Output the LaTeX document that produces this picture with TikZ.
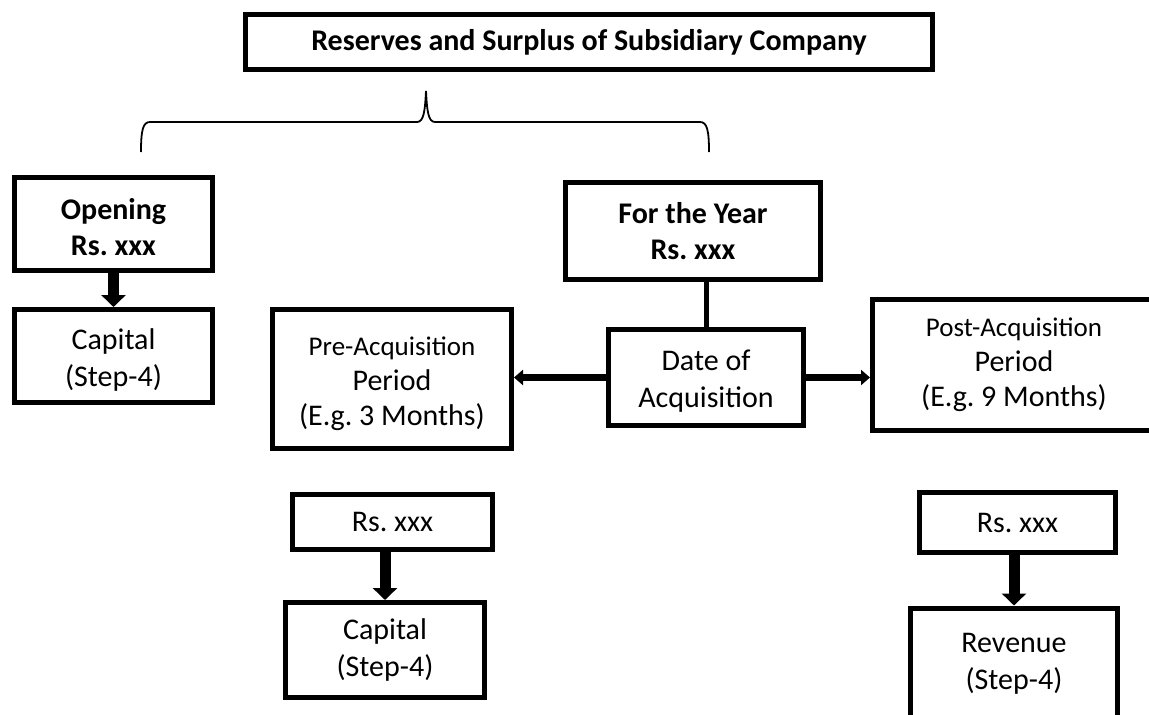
\documentclass[tikz,border=0pt]{standalone}
\usepackage{fontspec}
\setmainfont{Carlito}
\usetikzlibrary{arrows.meta}
\frenchspacing
% taller first line, to set a box's text a little lower
\newcommand\boxstrut{\rule{0pt}{28pt}}
\begin{document}
\begin{tikzpicture}[x=1pt,y=-1pt,
  box/.style={draw=black, line width=5pt, fill=white, inner sep=0pt, align=center,
              font=\fontsize{30}{37}\selectfont},
  boldbox/.style={box, font=\fontsize{30}{36}\selectfont\bfseries},
  link/.style={line width=5pt, preaction={draw=white, line width=9pt}},
  varrow/.style={line width=11pt,
                 preaction={draw=white, line width=20pt, -{Triangle[width=30pt,length=15pt]}},
                 -{Triangle[width=24pt,length=12pt]}},
  harrow/.style={line width=7pt,
                 preaction={draw=white, line width=17pt, -{Triangle[width=20pt,length=12pt]}},
                 -{Triangle[width=15pt,length=9pt]}}]
\useasboundingbox (0,0) rectangle (1149,715);
\begin{scope}
\clip (0,0) rectangle (1149,715);
\fill[white] (0,0) rectangle (1149,715);

% title and brace
\node[box, font=\fontsize{30}{36}\selectfont\bfseries, minimum width=687pt, minimum height=55pt]
  (title) at (589,42) {Reserves and Surplus of Subsidiary Company};
\coordinate (bl) at (141,152);
\coordinate (br) at (709,152);
\coordinate (bp) at (426,91);
\draw[line width=1.8pt]
  (bl) .. controls (141,130) and (143,122) .. (150,122) -- (417,122)
  .. controls (424,122) and (425,110) .. (bp)
  .. controls (427,110) and (428,122) .. (435,122) -- (700,122)
  .. controls (707,122) and (709,130) .. (br);

% opening balance
\node[boldbox, minimum width=198pt, minimum height=93pt] (open) at (113.5,224) {\boxstrut Opening\\Rs. xxx};
\node[box, minimum width=198pt, minimum height=93pt] (cap1) at (113.5,356) {\boxstrut Capital\\(Step-4)};

% for the year
\node[boldbox, minimum width=255pt, minimum height=97pt] (year) at (693,231) {For the Year\\Rs. xxx};
\node[box, minimum width=195pt, minimum height=96pt] (date) at (706,377.5) {\boxstrut Date of\\Acquisition};

% periods
\node[box, minimum width=239pt, minimum height=139pt, font=\fontsize{30}{35}\selectfont] (pre) at (392,379)
  {{\fontsize{27}{35}\selectfont \boxstrut Pre-Acquisition}\\Period\\(E.g. 3 Months)};
\node[box, minimum width=283pt, minimum height=131pt, font=\fontsize{30}{35}\selectfont] (post) at (1014,365)
  {{\fontsize{27}{35}\selectfont Post-Acquisition}\\Period\\(E.g. 9 Months)};

% split of the year's amount
\node[box, minimum width=200pt, minimum height=55pt] (rspre) at (392.5,521.5) {Rs. xxx};
\node[box, minimum width=199pt, minimum height=95pt] (cap2) at (385,650) {Capital\\(Step-4)};
\node[box, minimum width=196pt, minimum height=60pt] (rspost) at (1017.5,522.5) {Rs. xxx};
\node[box, minimum width=207pt, minimum height=112pt] (rev) at (1014,664) {Revenue\\(Step-4)};

% connectors
\draw[varrow] (open.south) -- (open.south |- cap1.north);
\draw[link] (year.south -| date.north) -- (date.north);
\draw[harrow] (date.west) -- (date.west -| pre.east);
\draw[harrow] (date.east) -- (date.east -| post.west);
\draw[varrow] (rspre.south -| cap2.north) -- (cap2.north);
\draw[varrow] (rspost.south -| rev.north) -- (rev.north);
\end{scope}
\end{tikzpicture}
\end{document}
